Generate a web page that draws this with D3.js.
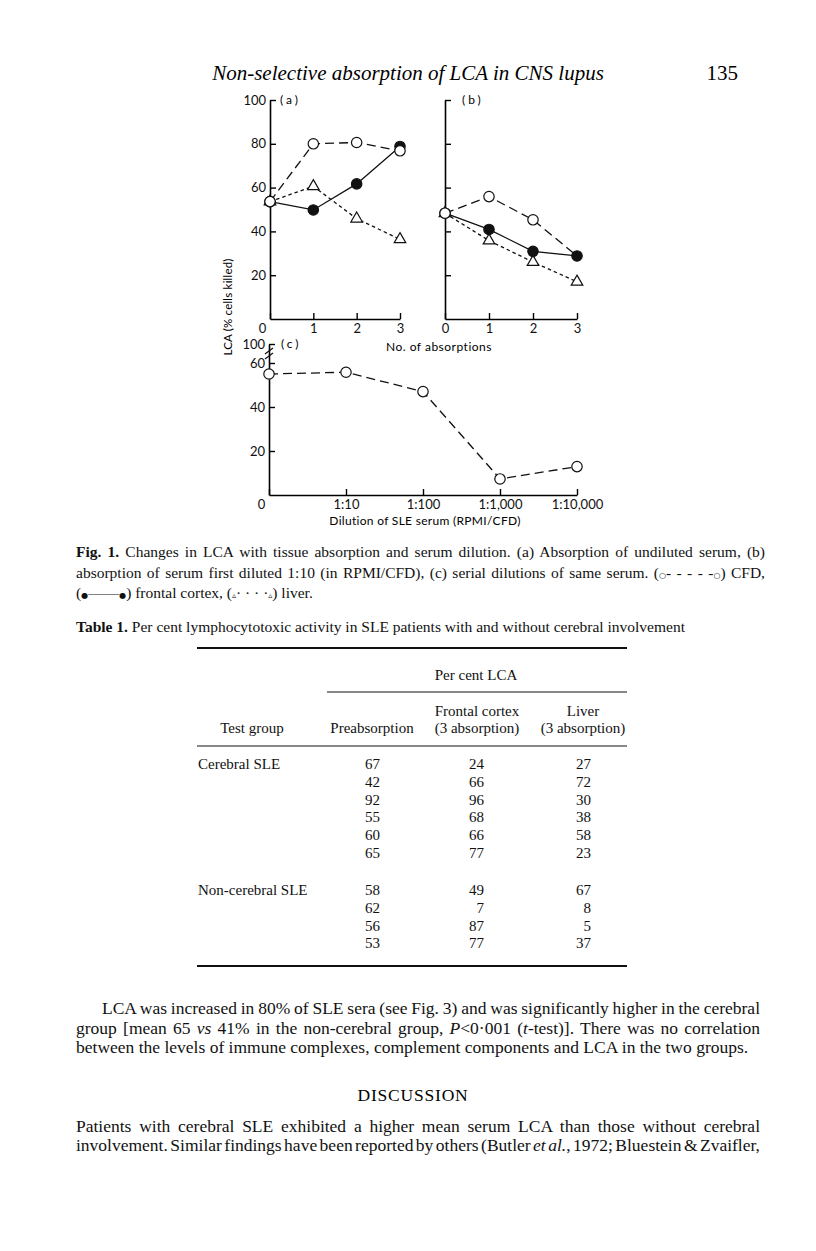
<!DOCTYPE html>
<html>
<head>
<meta charset="utf-8">
<script src="https://cdn.jsdelivr.net/npm/d3@7"></script>
<style>
  body { margin: 0; background: #fff; }
  svg { display: block; }
</style>
</head>
<body>
<script>
// ---- data ----
const absorptions = [0, 1, 2, 3];
const cfdA = [53.6, 80, 80.6, 76.8];
const frontalA = [53.6, 49.8, 61.7, 78.8];
const liverA = [53.6, 60.6, 45.8, 36.4];
const cfdB = [48.3, 55.9, 45.3, 28.8];
const frontalB = [48.3, 40.9, 30.9, 28.8];
const liverB = [48.3, 35.8, 26.0, 17.0];
const dilutions = ["0", "1:10", "1:100", "1:1,000", "1:10,000"];
const cfdC = [55.0, 55.8, 47.0, 7.3, 12.9];
const yTicksAB = [20, 40, 60, 80, 100];
const yTicksC = [20, 40, 60, 100];

// Table 1
const groups = ["Cerebral SLE", "Non-cerebral SLE"];
const groupSizes = [6, 4];
const preabsorption = [67, 42, 92, 55, 60, 65, 58, 62, 56, 53];
const frontalCortex3 = [24, 66, 96, 68, 66, 77, 49, 7, 87, 77];
const liver3 = [27, 72, 30, 38, 58, 23, 67, 8, 5, 37];

const serif = "'Liberation Serif', 'Times New Roman', serif";
const sans = "Lato, 'Liberation Sans', sans-serif";

const svg = d3.select("body").append("svg")
  .attr("width", 816)
  .attr("height", 1251);

// running head
svg.append("text")
  .attr("x", 408).attr("y", 80)
  .attr("text-anchor", "middle")
  .style("font-family", serif).style("font-style", "italic").style("font-size", "21px")
  .text("Non-selective absorption of LCA in CNS lupus");
svg.append("text")
  .attr("x", 738).attr("y", 80)
  .attr("text-anchor", "end")
  .style("font-family", serif).style("font-size", "21px")
  .text("135");

// ---- figure panels ----
const styles = {
  cfd: { dash: "9,5", mark: "open" },
  frontal: { dash: null, mark: "filled" },
  liver: { dash: "3.5,3", mark: "tri" }
};

function panel(cfg) {
  const g = svg.append("g");
  const x = cfg.x, y = cfg.y;

  const yAxis = d3.axisLeft(y)
    .tickValues(cfg.yTicks)
    .tickSizeInner(-6).tickSizeOuter(0).tickPadding(4)
    .tickFormat(cfg.yLabels ? d3.format("d") : () => "");
  g.append("g")
    .attr("transform", `translate(${x.range()[0]},0)`)
    .call(yAxis);

  const xAxis = (cfg.xBand ? d3.axisBottom(x) : d3.axisBottom(x).tickValues(absorptions).tickFormat(d3.format("d")))
    .tickSizeInner(-6).tickSizeOuter(0).tickPadding(5);
  const xa = g.append("g")
    .attr("transform", `translate(0,${y(0)})`)
    .call(xAxis);
  if (cfg.shiftZero) xa.selectAll(".tick text").filter((d, i) => i === 0).attr("dx", -8);

  g.selectAll(".domain").attr("stroke-width", 1.6);
  g.selectAll(".tick line").attr("stroke-width", 1.4);
  g.selectAll(".tick text")
    .style("font-family", sans).style("font-size", "13px").attr("fill", "#111");

  // panel tag
  g.append("text")
    .attr("x", x.range()[0] + cfg.tagDx).attr("y", y(cfg.yTicks[cfg.yTicks.length - 1]) + 4)
    .style("font-family", sans).style("font-size", "12px").attr("letter-spacing", "3px")
    .text(cfg.tag);

  const xs = cfg.xBand ? dilutions : absorptions;
  cfg.series.forEach(s => {
    const st = styles[s.key];
    g.append("path")
      .datum(s.values)
      .attr("fill", "none").attr("stroke", "#111").attr("stroke-width", 1.3)
      .attr("stroke-dasharray", st.dash)
      .attr("d", d3.line().x((d, i) => x(xs[i])).y(d => y(d)));
  });
  cfg.series.forEach(s => {
    const st = styles[s.key];
    const hide = s.hide || [];
    const pts = g.selectAll(null).data(s.values.map((v, i) => ({ v, i })).filter(p => !hide.includes(p.i))).enter();
    if (st.mark === "tri") {
      pts.append("path")
        .attr("d", d3.symbol(d3.symbolTriangle, 58))
        .attr("transform", p => `translate(${x(xs[p.i])},${y(p.v)})`)
        .attr("fill", "#fff").attr("stroke", "#111").attr("stroke-width", 1.2);
    } else {
      pts.append("circle")
        .attr("cx", p => x(xs[p.i])).attr("cy", p => y(p.v)).attr("r", 5.2)
        .attr("fill", st.mark === "filled" ? "#111" : "#fff")
        .attr("stroke", "#111").attr("stroke-width", 1.2);
    }
  });
  return g;
}

panel({
  x: d3.scaleLinear().domain([0, 3]).range([270, 400]),
  y: d3.scaleLinear().domain([0, 100]).range([319, 100]),
  yTicks: yTicksAB, yLabels: true, shiftZero: true, tag: "(a)", tagDx: 10,
  series: [{ key: "liver", values: liverA }, { key: "frontal", values: frontalA }, { key: "cfd", values: cfdA }]
});

panel({
  x: d3.scaleLinear().domain([0, 3]).range([445, 577]),
  y: d3.scaleLinear().domain([0, 100]).range([319, 100]),
  yTicks: yTicksAB, yLabels: false, shiftZero: false, tag: "(b)", tagDx: 17,
  series: [{ key: "liver", values: liverB }, { key: "frontal", values: frontalB }, { key: "cfd", values: cfdB, hide: [3] }]
});

const yC = d3.scaleLinear().domain([0, 60, 100]).range([495, 363, 344]);
const gC = panel({
  x: d3.scalePoint().domain(dilutions).range([269, 577]),
  y: yC,
  xBand: true,
  yTicks: yTicksC, yLabels: true, shiftZero: true, tag: "(c)", tagDx: 12,
  series: [{ key: "cfd", values: cfdC }]
});
// axis break between 60 and 100
[351, 356].forEach(yy => {
  gC.append("line")
    .attr("x1", 265).attr("y1", yy + 3).attr("x2", 273).attr("y2", yy - 3)
    .attr("stroke", "#111").attr("stroke-width", 1.2);
});

// axis titles
svg.append("text")
  .attr("transform", "translate(232,307) rotate(-90)")
  .attr("text-anchor", "middle")
  .style("font-family", sans).style("font-size", "11.5px").attr("letter-spacing", "0.2px")
  .text("LCA (% cells killed)");
svg.append("text")
  .attr("x", 439).attr("y", 351).attr("text-anchor", "middle")
  .style("font-family", sans).style("font-size", "12px").attr("letter-spacing", "0.5px")
  .text("No. of absorptions");
svg.append("text")
  .attr("x", 425).attr("y", 525).attr("text-anchor", "middle")
  .style("font-family", sans).style("font-size", "12px").attr("letter-spacing", "0.3px")
  .text("Dilution of SLE serum (RPMI/CFD)");

// ---- running text ----
function textLine(x, y, parts, size, width) {
  const t = svg.append("text")
    .attr("x", x).attr("y", y)
    .style("font-family", serif).style("font-size", size + "px").attr("fill", "#111");
  parts.forEach(p => {
    const sp = t.append("tspan").text(p[0]);
    if (p[1]) Object.entries(p[1]).forEach(([k, v]) => sp.style(k, v));
  });
  if (width) {
    const len = t.node().getComputedTextLength();
    const gaps = (t.node().textContent.match(/ /g) || []).length;
    if (gaps) t.attr("word-spacing", (width - len) / gaps);
  }
  return t;
}
const B = { "font-weight": "bold" };
const I = { "font-style": "italic" };
const SYM = { "font-family": "'DejaVu Sans', sans-serif", "font-size": "8px" };

textLine(76, 557, [["Fig. 1.", B], [" Changes in LCA with tissue absorption and serum dilution. (a) Absorption of undiluted serum, (b)"]], 15.5, 689);
textLine(76, 578, [["absorption of serum first diluted 1:10 (in RPMI/CFD), (c) serial dilutions of same serum. ("],
  ["\u25CB", SYM], ["- - - - -"], ["\u25CB", SYM], [") CFD,"]], 15.5, 689);
textLine(76, 598, [["("], ["\u25CF", SYM], ["\u2014\u2014"], ["\u25CF", SYM], [") frontal cortex, ("],
  ["\u25B5", SYM], ["\u00B7 \u00B7 \u00B7 \u00B7"], ["\u25B5", SYM], [") liver."]], 15.5);

textLine(76, 632, [["Table 1.", B], [" Per cent lymphocytotoxic activity in SLE patients with and without cerebral involvement"]], 15.5);

// ---- Table 1 ----
const rule = (x1, x2, yy, w) => svg.append("line")
  .attr("x1", x1).attr("x2", x2).attr("y1", yy).attr("y2", yy)
  .attr("stroke", "#111").attr("stroke-width", w);
rule(197, 627, 648, 2);
rule(327, 627, 692, 1.2);
rule(197, 627, 746, 1.2);
rule(197, 627, 966, 2);

const cell = (x, y, s, anchor) => svg.append("text")
  .attr("x", x).attr("y", y).attr("text-anchor", anchor || "middle")
  .style("font-family", serif).style("font-size", "15px").attr("fill", "#111")
  .text(s);
cell(476, 680, "Per cent LCA");
cell(477, 716, "Frontal cortex");
cell(583, 716, "Liver");
cell(252, 733, "Test group");
cell(372, 733, "Preabsorption");
cell(477, 733, "(3 absorption)");
cell(583, 733, "(3 absorption)");

let row = 0;
groups.forEach((name, gi) => {
  const y0 = gi === 0 ? 769 : 895;
  cell(198, y0, name, "start");
  for (let k = 0; k < groupSizes[gi]; k++, row++) {
    const yy = y0 + k * 17.8;
    cell(380, yy, preabsorption[row], "end");
    cell(484, yy, frontalCortex3[row], "end");
    cell(591, yy, liver3[row], "end");
  }
});

// ---- body text ----
const BODY = 17.5;
textLine(102, 1014, [["LCA was increased in 80% of SLE sera (see Fig. 3) and was significantly higher in the cerebral"]], BODY, 658);
textLine(76, 1034, [["group [mean 65 "], ["vs", I], [" 41% in the non-cerebral group, "], ["P", I], ["<0\u00B7001 ("], ["t", I], ["-test)]. There was no correlation"]], BODY, 684);
textLine(76, 1053, [["between the levels of immune complexes, complement components and LCA in the two groups."]], BODY);

svg.append("text")
  .attr("x", 413).attr("y", 1101).attr("text-anchor", "middle")
  .style("font-family", serif).style("font-size", BODY + "px").attr("letter-spacing", "0.8px")
  .text("DISCUSSION");

textLine(76, 1132, [["Patients with cerebral SLE exhibited a higher mean serum LCA than those without cerebral"]], BODY, 684);
textLine(76, 1151, [["involvement. Similar findings have been reported by others (Butler "], ["et al.", I], [", 1972; Bluestein & Zvaifler,"]], BODY, 684);
</script>
</body>
</html>
